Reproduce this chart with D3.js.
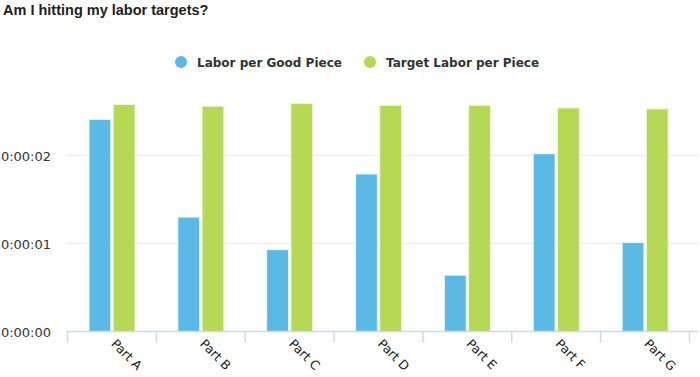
<!DOCTYPE html>
<html>
<head>
<meta charset="utf-8">
<script src="https://cdn.jsdelivr.net/npm/d3@7"></script>
<style>
  body { margin: 0; background: #fff; }
  text { font-family: 'DejaVu Sans', Verdana, sans-serif; }
</style>
</head>
<body>
<div id="chart"></div>
<script>
// data (seconds)
var parts = ['Part A', 'Part B', 'Part C', 'Part D', 'Part E', 'Part F', 'Part G']
var laborPerGood = [2.41, 1.30, 0.93, 1.79, 0.64, 2.02, 1.01]
var targetLabor = [2.58, 2.56, 2.59, 2.57, 2.57, 2.54, 2.53]
var seriesNames = ['Labor per Good Piece', 'Target Labor per Piece']
var seriesColors = ['#5bb9e6', '#b5d955']
var yTicks = [0, 1, 2]

var svgWidth = 700,
  svgHeight = 377,
  margin = { top: 67.5, right: 2, bottom: 45.5, left: 67 }
var width = svgWidth - margin.left - margin.right,
  height = svgHeight - margin.top - margin.bottom

var svg = d3.select('#chart').append('svg')
  .attr('width', svgWidth)
  .attr('height', svgHeight)

// title
svg.append('text')
  .attr('x', 3).attr('y', 15)
  .style('font-family', "'Liberation Sans', Arial, sans-serif")
  .style('font-weight', 'bold')
  .style('font-size', '14.5px')
  .attr('fill', '#222')
  .text('Am I hitting my labor targets?')

// legend
var legendX = [181, 370]
seriesNames.forEach(function (name, i) {
  var g = svg.append('g').attr('transform', 'translate(' + legendX[i] + ',62)')
  g.append('circle').attr('r', 6).attr('fill', seriesColors[i])
  g.append('text')
    .attr('x', 16).attr('y', 4.5)
    .style('font-size', '12px')
    .style('font-weight', 'bold')
    .attr('fill', '#333')
    .text(name)
})

var chart = svg.append('g')
  .attr('transform', 'translate(' + margin.left + ',' + margin.top + ')')

var x0 = d3.scaleBand().domain(parts).range([0, 622])
var x1 = d3.scaleBand().domain([0, 1]).range([22, 68]).paddingInner(0.1)
var y = d3.scaleLinear().domain([0, 3]).range([height, 0])

// grid
chart.append('g')
  .selectAll('line')
  .data(yTicks.slice(1))
  .join('line')
  .attr('x1', 0).attr('x2', width)
  .attr('y1', function (d) { return y(d) }).attr('y2', function (d) { return y(d) })
  .attr('stroke', '#f0f0e6')
  .attr('stroke-width', 1.5)

// y labels
chart.append('g')
  .selectAll('text')
  .data(yTicks)
  .join('text')
  .attr('x', -16)
  .attr('y', function (d) { return y(d) + 5 })
  .attr('text-anchor', 'end')
  .style('font-size', '13px')
  .attr('fill', '#333')
  .text(function (d) { return '0:00:0' + d })

// bars
var rows = parts.map(function (p, i) { return { part: p, vals: [laborPerGood[i], targetLabor[i]] } })
chart.append('g')
  .selectAll('g')
  .data(rows)
  .join('g')
  .attr('transform', function (d) { return 'translate(' + x0(d.part) + ',0)' })
  .selectAll('rect')
  .data(function (d) { return d.vals.map(function (v, k) { return { k: k, v: v } }) })
  .join('rect')
  .attr('x', function (d) { return x1(d.k) })
  .attr('width', x1.bandwidth())
  .attr('y', function (d) { return y(d.v) })
  .attr('height', function (d) { return height - y(d.v) })
  .attr('fill', function (d) { return seriesColors[d.k] })
  .attr('stroke', '#eef6e0')
  .attr('stroke-width', 1)

// x axis
var xAxis = chart.append('g').attr('transform', 'translate(0,' + height + ')')
xAxis.append('line')
  .attr('x1', 0).attr('x2', width)
  .attr('stroke', '#c8dcef').attr('stroke-width', 1.5)
xAxis.selectAll('.tick-line')
  .data(parts.concat(['end']))
  .join('line')
  .attr('class', 'tick-line')
  .attr('x1', function (d, i) { return i * x0.step() + 0.5 })
  .attr('x2', function (d, i) { return i * x0.step() + 0.5 })
  .attr('y1', 0).attr('y2', 11)
  .attr('stroke', '#c8dcef').attr('stroke-width', 1.5)
xAxis.selectAll('.xlab')
  .data(parts)
  .join('text')
  .attr('class', 'xlab')
  .attr('transform', function (d) {
    return 'translate(' + (x0(d) + x0.bandwidth() / 2 - 1) + ',13) rotate(45)'
  })
  .attr('text-anchor', 'start')
  .style('font-size', '12.5px')
  .attr('fill', '#222')
  .text(function (d) { return d })
</script>
</body>
</html>
